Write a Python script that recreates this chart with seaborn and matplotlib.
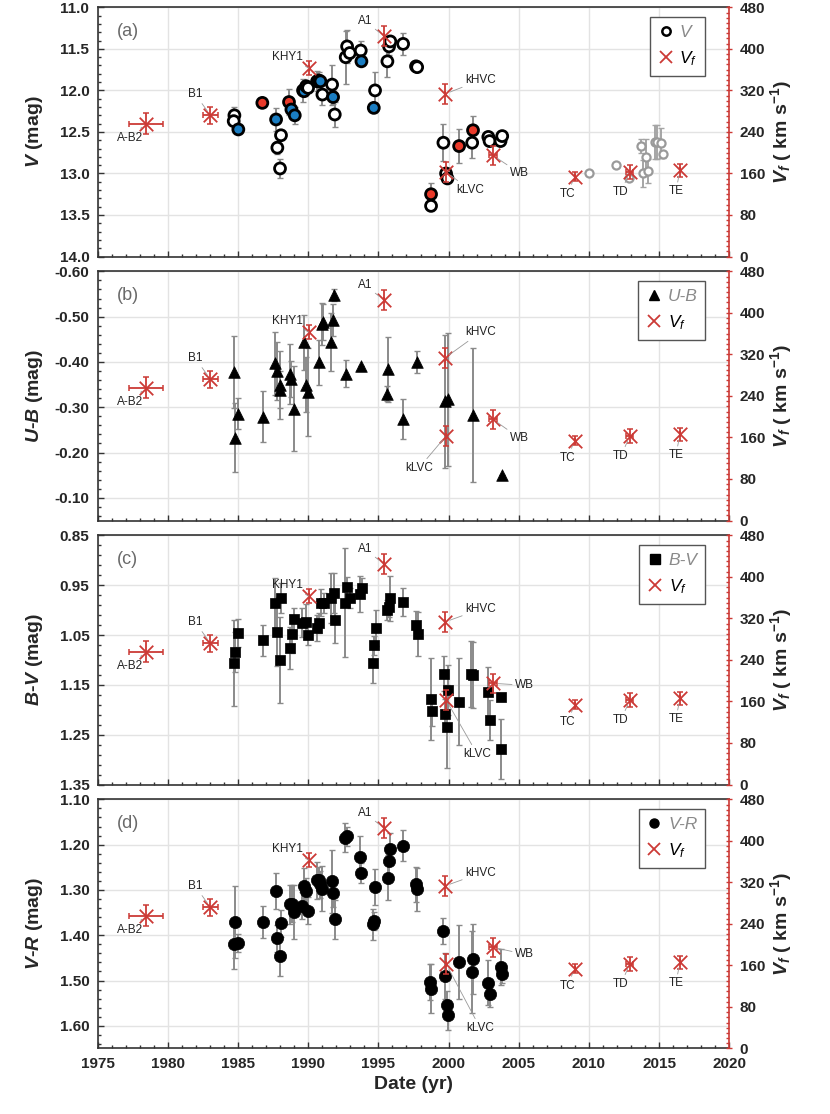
import numpy as np
import pandas as pd
import matplotlib
matplotlib.use('Agg')
import matplotlib.pyplot as plt
from matplotlib.ticker import MultipleLocator, FormatStrFormatter
from matplotlib.lines import Line2D
import seaborn as sns

# ---------------------------------------------------
# Data
# ---------------------------------------------------
# V magnitude (panel a); fill: w = open, r = red, b = blue, g = grey (recent)
v_year = [1984.74, 1984.69, 1985.02, 1986.73, 1987.71, 1987.80, 1988.06, 1987.99,
          1988.63, 1988.80, 1989.04, 1989.63, 1989.70, 1989.85, 1989.99, 1990.63,
          1990.75, 1990.87, 1991.01, 1991.70, 1991.77, 1991.89, 1992.67, 1992.77,
          1992.96, 1993.74, 1993.79, 1994.67, 1994.76, 1995.64, 1995.76, 1995.85,
          1996.76, 1997.68, 1997.76, 1998.75, 1998.75, 1999.63, 1999.82, 1999.92,
          2000.75, 2001.68, 2001.74, 2002.83, 2002.92, 2003.70, 2003.82,
          2009.99, 2011.95, 2012.85, 2013.68, 2013.85, 2014.09, 2014.23, 2014.68,
          2014.87, 2015.10, 2015.27]
v_mag = [12.30, 12.37, 12.47, 12.15, 12.35, 12.69, 12.54, 12.94,
         12.14, 12.23, 12.30, 12.00, 12.01, 11.95, 11.97, 11.89,
         11.88, 11.89, 12.05, 11.93, 12.08, 12.29, 11.60, 11.47,
         11.55, 11.52, 11.65, 12.21, 12.00, 11.65, 11.47, 11.41,
         11.44, 11.71, 11.72, 13.39, 13.25, 12.63, 13.00, 13.06,
         12.67, 12.63, 12.48, 12.56, 12.61, 12.61, 12.55,
         13.00, 12.90, 13.05, 12.67, 13.00, 12.80, 12.97, 12.62,
         12.62, 12.63, 12.77]
v_err = [0.10, 0.06, 0.04, 0.04, 0.14, 0.08, 0.06, 0.12,
         0.16, 0.08, 0.10, 0.14, 0.06, 0.06, 0.06, 0.12,
         0.10, 0.08, 0.12, 0.24, 0.08, 0.15, 0.32, 0.20,
         0.06, 0.12, 0.04, 0.06, 0.22, 0.19, 0.10, 0.06,
         0.13, 0.05, 0.06, 0.06, 0.14, 0.22, 0.06, 0.05,
         0.20, 0.18, 0.17, 0.06, 0.06, 0.05, 0.06,
         0.00, 0.00, 0.00, 0.08, 0.16, 0.22, 0.15, 0.20,
         0.20, 0.18, 0.04]
v_fill = ['w', 'w', 'b', 'r', 'b', 'w', 'w', 'w',
          'r', 'b', 'b', 'w', 'b', 'r', 'w', 'w',
          'w', 'b', 'w', 'w', 'b', 'w', 'w', 'w',
          'w', 'w', 'b', 'b', 'w', 'w', 'w', 'w',
          'w', 'w', 'w', 'w', 'r', 'w', 'w', 'w',
          'r', 'w', 'r', 'w', 'w', 'w', 'w',
          'g', 'g', 'g', 'g', 'g', 'g', 'g', 'g',
          'g', 'g', 'g']

# U-B colour (panel b)
ub_year = [1984.74, 1985.00, 1984.81, 1986.78, 1987.61, 1987.78, 1988.02, 1987.97,
           1988.68, 1988.80, 1988.97, 1989.68, 1989.87, 1989.96, 1990.75, 1990.99,
           1991.06, 1991.65, 1991.77, 1991.86, 1992.72, 1993.74, 1995.66, 1995.62,
           1996.76, 1997.76, 1999.77, 1999.96, 2001.75, 2003.82]
ub_val = [-0.378, -0.286, -0.233, -0.279, -0.397, -0.380, -0.350, -0.339,
          -0.373, -0.363, -0.297, -0.443, -0.350, -0.333, -0.399, -0.484,
          -0.489, -0.444, -0.493, -0.548, -0.374, -0.391, -0.384, -0.330,
          -0.274, -0.400, -0.313, -0.318, -0.283, -0.150]
ub_err = [0.079, 0.035, 0.077, 0.056, 0.070, 0.064, 0.075, 0.040,
          0.066, 0.040, 0.094, 0.060, 0.060, 0.097, 0.050, 0.047,
          0.040, 0.065, 0.035, 0.013, 0.030, 0.000, 0.072, 0.017,
          0.045, 0.024, 0.147, 0.147, 0.147, 0.000]

# B-V colour (panel c)
bv_year = [1984.74, 1984.81, 1985.02, 1986.78, 1987.66, 1987.80, 1988.09, 1988.02,
           1988.68, 1988.85, 1989.01, 1989.56, 1989.87, 1989.99, 1990.63, 1990.77,
           1990.91, 1991.10, 1991.65, 1991.82, 1991.89, 1992.65, 1992.77, 1992.96,
           1993.67, 1993.81, 1994.62, 1994.71, 1994.81, 1995.62, 1995.76, 1995.85,
           1996.76, 1997.71, 1997.80, 1998.73, 1998.80, 1999.66, 1999.73, 1999.96,
           1999.89, 2000.75, 2001.62, 2001.77, 2002.83, 2002.94, 2003.75, 2003.75]
bv_val = [1.106, 1.084, 1.046, 1.061, 0.985, 1.043, 0.975, 1.100,
          1.076, 1.048, 1.018, 1.025, 1.023, 1.050, 1.036, 1.025,
          0.985, 0.985, 0.975, 0.965, 1.019, 0.985, 0.953, 0.976,
          0.967, 0.955, 1.106, 1.071, 1.036, 0.999, 0.993, 0.976,
          0.983, 1.029, 1.048, 1.179, 1.203, 1.128, 1.209, 1.161,
          1.234, 1.184, 1.128, 1.131, 1.165, 1.220, 1.174, 1.279]
bv_err = [0.087, 0.040, 0.028, 0.032, 0.050, 0.070, 0.030, 0.087,
          0.042, 0.038, 0.023, 0.030, 0.035, 0.020, 0.027, 0.020,
          0.027, 0.020, 0.050, 0.040, 0.047, 0.110, 0.020, 0.020,
          0.036, 0.020, 0.041, 0.020, 0.036, 0.020, 0.020, 0.045,
          0.028, 0.028, 0.045, 0.082, 0.030, 0.035, 0.030, 0.050,
          0.083, 0.087, 0.066, 0.066, 0.050, 0.040, 0.000, 0.060]

# V-R colour (panel d)
vr_year = [1984.76, 1984.74, 1985.02, 1986.78, 1987.68, 1987.78, 1988.02, 1988.09,
           1988.68, 1988.85, 1989.01, 1989.56, 1989.68, 1989.87, 1989.99, 1990.63,
           1990.80, 1990.87, 1991.01, 1991.70, 1991.77, 1991.89, 1992.65, 1992.79,
           1993.72, 1993.79, 1994.62, 1994.71, 1994.79, 1995.66, 1995.74, 1995.85,
           1996.76, 1997.68, 1997.76, 1998.71, 1998.78, 1999.63, 1999.73, 1999.92,
           1999.96, 2000.75, 2001.67, 2001.75, 2002.83, 2002.92, 2003.70, 2003.82]
vr_val = [1.371, 1.420, 1.418, 1.371, 1.303, 1.407, 1.446, 1.374,
          1.332, 1.330, 1.349, 1.335, 1.291, 1.303, 1.346, 1.279,
          1.279, 1.288, 1.297, 1.281, 1.307, 1.365, 1.185, 1.182,
          1.227, 1.262, 1.376, 1.369, 1.293, 1.273, 1.236, 1.210,
          1.202, 1.288, 1.299, 1.503, 1.518, 1.391, 1.490, 1.553,
          1.577, 1.459, 1.481, 1.452, 1.505, 1.529, 1.470, 1.486]
vr_err = [0.080, 0.055, 0.020, 0.035, 0.040, 0.030, 0.044, 0.030,
          0.043, 0.040, 0.060, 0.030, 0.040, 0.030, 0.030, 0.040,
          0.030, 0.030, 0.050, 0.070, 0.030, 0.043, 0.032, 0.020,
          0.046, 0.022, 0.035, 0.020, 0.040, 0.050, 0.030, 0.036,
          0.035, 0.038, 0.048, 0.040, 0.054, 0.028, 0.050, 0.030,
          0.033, 0.082, 0.090, 0.077, 0.050, 0.030, 0.040, 0.020]

# Vf (right axis, same in all panels)
vf_name = ['A-B2', 'B1', 'KHY1', 'A1', 'kHVC', 'kLVC', 'WB', 'TC', 'TD', 'TE']
vf_year = [1978.44, 1983.03, 1990.04, 1995.38, 1999.73, 1999.82, 2003.15, 2008.98, 2012.92, 2016.48]
vf_val = [256, 272, 363, 425, 313, 163, 195, 154, 163, 166]
vf_err = [20, 16, 14, 19, 20, 19, 18, 8, 13, 13]
vf_yerr = [1.24, 0.55, 0.0, 0.0, 0.0, 0.0, 0.3, 0.0, 0.25, 0.0]

# label offsets in pixels (per panel where they differ)
lab_off = {'A-B2': (-16, -14), 'B1': (-15, 21), 'KHY1': (-21, 11), 'A1': (-19, 15),
           'kHVC': (36, 14), 'kLVC': (24, -18), 'WB': (27, -18),
           'TC': (-7, -17), 'TD': (-9, -20), 'TE': (-4, -21)}
lab_panel = [{},
             {'kHVC': (36, 26), 'kLVC': (-27, -32), 'WB': (27, -19)},
             {'kHVC': (36, 13), 'kLVC': (31, -54), 'WB': (32, -2)},
             {'kHVC': (36, 13), 'kLVC': (34, -64), 'WB': (32, -7)}]

RED = '#cc3a36'
ERRC = '#8a8a8a'
FILLS = {'w': 'white', 'r': '#ea3a2a', 'b': '#1a7dc2'}

sns.set_theme(style='white')
plt.rcParams['font.family'] = ['Liberation Sans', 'DejaVu Sans']
plt.rcParams['mathtext.fontset'] = 'custom'
plt.rcParams['mathtext.rm'] = 'Liberation Sans'
plt.rcParams['mathtext.it'] = 'Liberation Sans:italic'
plt.rcParams['mathtext.bf'] = 'Liberation Sans:bold'
plt.rcParams['mathtext.bfit'] = 'Liberation Sans:italic:bold'

fig, axes = plt.subplots(4, 1, figsize=(8.3, 11.14), dpi=100, sharex=True)
fig.subplots_adjust(left=0.1177, right=0.8787, top=0.9934, bottom=0.0588, hspace=0.0595)

df_v = pd.DataFrame({'year': v_year, 'mag': v_mag, 'err': v_err, 'fill': v_fill})
old = df_v[df_v['fill'] != 'g']
new = df_v[df_v['fill'] == 'g']

panels = [
    dict(letter='(a)', ylabel=r'$\mathbfit{V}$ (mag)', leg='V', ylim=(14.0, 11.0),
         ticks=np.arange(11.0, 14.01, 0.5), minor=np.arange(11.0, 14.01, 0.1), fmt='%.1f'),
    dict(letter='(b)', ylabel=r'$\mathbfit{U}$-$\mathbfit{B}$ (mag)', leg='U-B', ylim=(-0.05, -0.60),
         ticks=np.arange(-0.60, -0.09, 0.1), minor=np.arange(-0.60, -0.049, 0.02), fmt='%.2f'),
    dict(letter='(c)', ylabel=r'$\mathbfit{B}$-$\mathbfit{V}$ (mag)', leg='B-V', ylim=(1.35, 0.85),
         ticks=np.arange(0.85, 1.351, 0.1), minor=np.arange(0.85, 1.351, 0.02), fmt='%.2f'),
    dict(letter='(d)', ylabel=r'$\mathbfit{V}$-$\mathbfit{R}$ (mag)', leg='V-R', ylim=(1.65, 1.10),
         ticks=np.arange(1.10, 1.61, 0.1), minor=np.arange(1.10, 1.651, 0.02), fmt='%.2f'),
]

for i, (ax, p) in enumerate(zip(axes, panels)):
    ax.set_axisbelow(True)
    ax.grid(True, which='major', color='#e3e3e3', lw=1.0)

    if i == 0:
        ax.errorbar(old['year'], old['mag'], yerr=old['err'], fmt='none', ecolor=ERRC,
                    elinewidth=1.4, capsize=2, capthick=1, zorder=2)
        ax.errorbar(new['year'], new['mag'], yerr=new['err'], fmt='none', ecolor='#a5a5a5',
                    elinewidth=1.4, capsize=2, capthick=1, zorder=2)
        sns.scatterplot(data=old, x='year', y='mag', hue='fill', palette=FILLS, ax=ax,
                        s=62, edgecolor='black', linewidth=2.0, legend=False, zorder=3)
        sns.scatterplot(data=new, x='year', y='mag', ax=ax, color='white', s=34,
                        edgecolor='#9a9a9a', linewidth=1.6, legend=False, zorder=3)
        hnd = Line2D([], [], marker='o', ls='none', mfc='white', mec='black', mew=1.8, ms=6)
    else:
        yr, val, err, mk, s = {1: (ub_year, ub_val, ub_err, '^', 70),
                               2: (bv_year, bv_val, bv_err, 's', 62),
                               3: (vr_year, vr_val, vr_err, 'o', 78)}[i]
        ax.errorbar(yr, val, yerr=err, fmt='none', ecolor=ERRC, elinewidth=1.4,
                    capsize=2, capthick=1, zorder=2)
        sns.scatterplot(x=yr, y=val, ax=ax, marker=mk, color='black', s=s,
                        edgecolor='black', linewidth=0.5, legend=False, zorder=3)
        hnd = Line2D([], [], marker=mk, ls='none', mfc='black', mec='black', ms=6.5)

    ax.set_xlim(1975, 2020)
    ax.set_ylim(*p['ylim'])
    ax.xaxis.set_major_locator(MultipleLocator(5))
    ax.xaxis.set_minor_locator(MultipleLocator(1))
    ax.set_yticks(p['ticks'])
    ax.set_yticks(p['minor'], minor=True)
    ax.set_ylim(*p['ylim'])
    ax.yaxis.set_major_formatter(FormatStrFormatter(p['fmt']))
    ax.tick_params(axis='both', which='both', direction='in', color='#333333',
                   left=True, bottom=True, top=False, right=False)
    ax.tick_params(which='major', length=4, width=1)
    ax.tick_params(which='minor', length=2.5, width=1)
    ax.tick_params(axis='y', labelsize=11, pad=6)
    ax.tick_params(axis='x', labelsize=11, pad=6)
    for lab in ax.get_yticklabels() + ax.get_xticklabels():
        lab.set_fontweight('bold')
    for sp in ['left', 'bottom', 'top']:
        ax.spines[sp].set_color('#333333')
        ax.spines[sp].set_linewidth(1.2)
    ax.spines['right'].set_visible(False)
    ax.set_xlabel('')
    ax.set_ylabel(p['ylabel'], fontsize=14, fontweight='bold')
    ax.yaxis.set_label_coords(-0.083, 0.5)
    ax.text(0.03, 0.905, p['letter'], transform=ax.transAxes, fontsize=13,
            color='#6a6a6a', va='center', ha='left')

    # Vf on the right axis
    ax2 = ax.twinx()
    ax2.errorbar(vf_year, vf_val, xerr=vf_yerr, yerr=vf_err, fmt='none', ecolor=RED,
                 elinewidth=1.3, capsize=2.2, capthick=1.1, zorder=4)
    sns.scatterplot(x=vf_year, y=vf_val, ax=ax2, marker='x', color=RED, s=95,
                    linewidth=1.3, legend=False, zorder=5)
    ax2.set_ylim(0, 480)
    ax2.yaxis.set_major_locator(MultipleLocator(80))
    ax2.yaxis.set_minor_locator(MultipleLocator(10))
    ax2.tick_params(axis='y', which='major', direction='inout', length=5, width=1,
                    color=RED, labelsize=11, pad=5)
    ax2.tick_params(axis='y', which='minor', direction='in', length=2.5, width=1, color=RED)
    for lab in ax2.get_yticklabels():
        lab.set_fontweight('bold')
    for sp in ['left', 'bottom', 'top']:
        ax2.spines[sp].set_visible(False)
    ax2.spines['right'].set_color(RED)
    ax2.spines['right'].set_linewidth(1.2)
    ax2.set_ylabel(r'$\mathbfit{V}_{\mathbfit{f}}$ ( km s$^{\mathbf{-1}}$)',
                   fontsize=14, fontweight='bold')
    ax2.yaxis.set_label_coords(1.062, 0.5)

    offs = dict(lab_off)
    offs.update(lab_panel[i])
    for name, x, y in zip(vf_name, vf_year, vf_val):
        ax2.annotate(name, xy=(x, y), xytext=offs[name], textcoords='offset pixels',
                     ha='center', va='center', fontsize=8.5, color='#222222',
                     arrowprops=dict(arrowstyle='-', color='#999999', lw=0.6,
                                     shrinkA=0, shrinkB=4), zorder=6)

    vfh = Line2D([], [], marker='x', ls='none', color=RED, ms=9, mew=1.3)
    leg = ax2.legend([hnd, vfh], [p['leg'], '$V_f$'], loc='upper right',
                     bbox_to_anchor=(0.962, 0.962), borderaxespad=0, frameon=True,
                     fancybox=False, edgecolor='#555555', framealpha=1, handlelength=0.9,
                     handletextpad=0.35, borderpad=0.45, labelspacing=0.55,
                     prop={'size': 12.5, 'style': 'italic'})
    leg.get_frame().set_linewidth(1.0)
    leg.get_texts()[0].set_color('#8a8a8a')
    leg.get_texts()[1].set_color('black')

axes[-1].set_xlabel('Date (yr)', fontsize=14, fontweight='bold', labelpad=4)

fig.savefig('out.png', dpi=100)
